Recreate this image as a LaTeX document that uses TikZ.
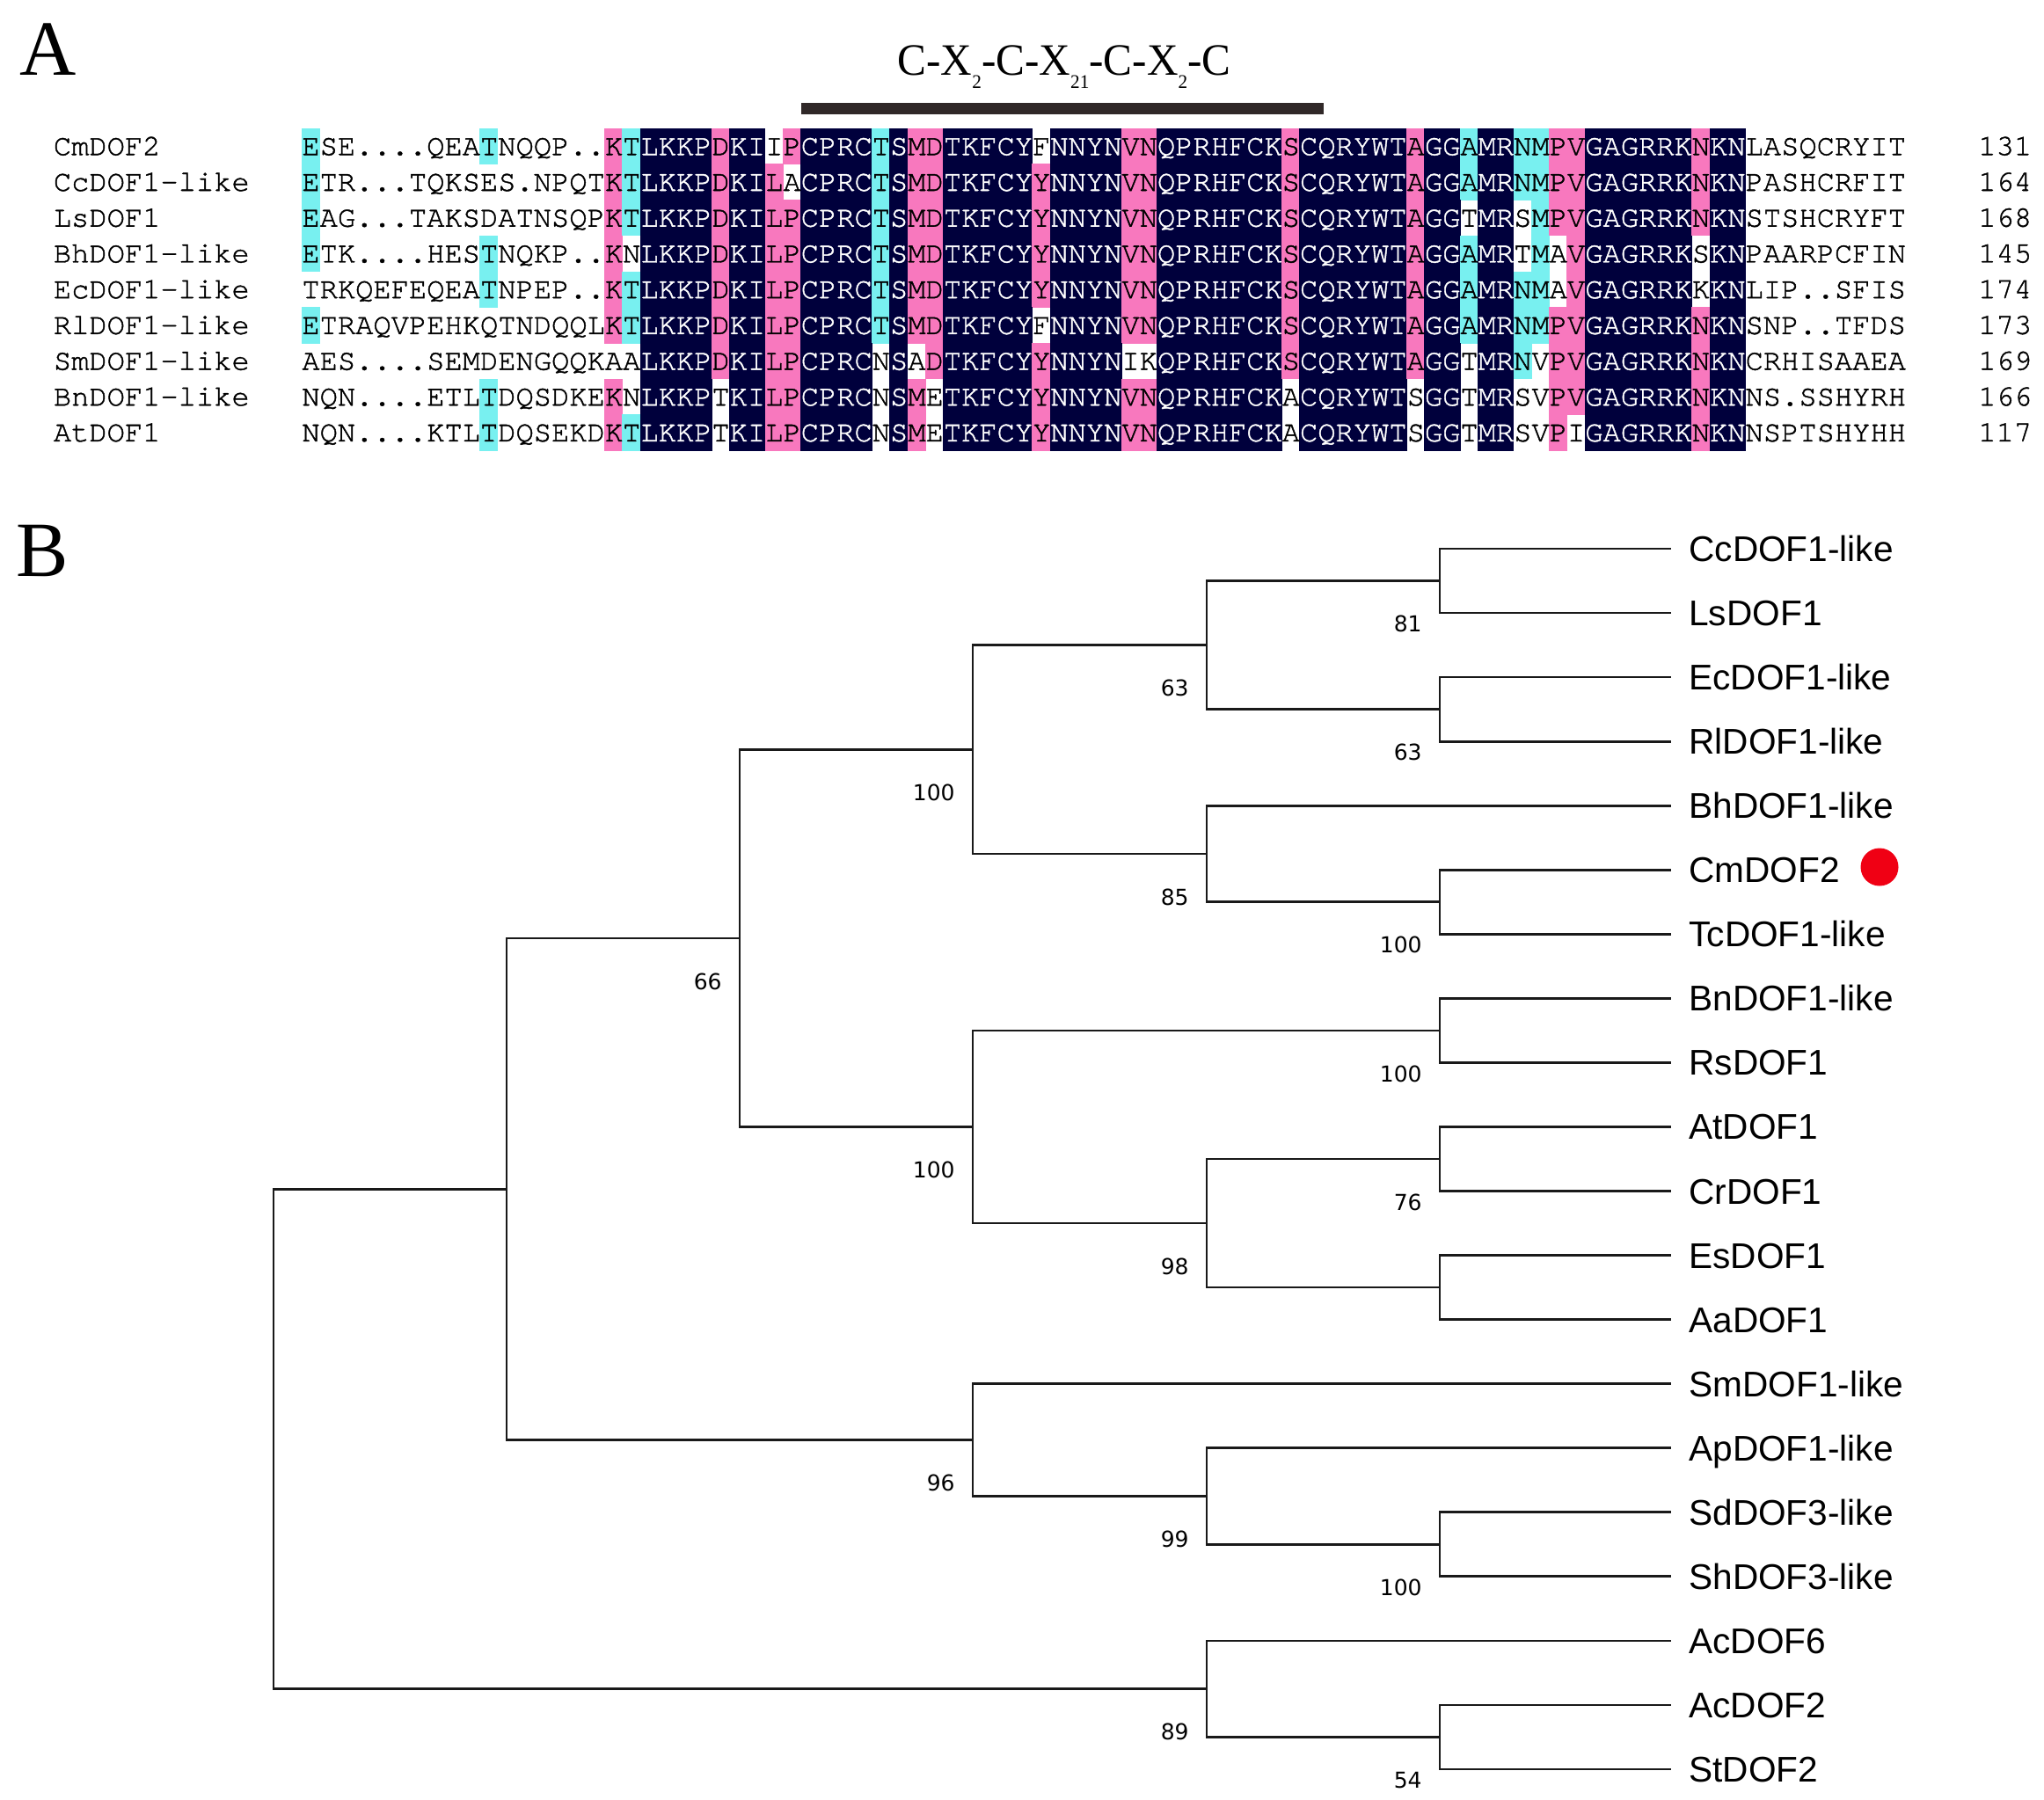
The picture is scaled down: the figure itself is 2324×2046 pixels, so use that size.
\documentclass[tikz,border=0pt]{standalone}
\usepackage{fontspec}
\usepackage{graphicx}
\newfontfamily\monofont[FakeBold=1.2]{TeX Gyre Cursor}
\newfontfamily\labelfont{Liberation Sans}
\newfontfamily\bootfont{DejaVu Sans}
\newfontfamily\serifont{Liberation Serif}
\definecolor{navyc}{RGB}{0,0,60}
\definecolor{pinkc}{RGB}{248,120,190}
\definecolor{cyanc}{RGB}{120,240,240}
\definecolor{barc}{RGB}{48,40,40}
\definecolor{treec}{RGB}{25,25,25}
\definecolor{dotred}{RGB}{240,0,20}

\ExplSyntaxOn
\str_const:cn { c_al_row_1_str } {ESE....QEATNQQP..KTLKKPDKIIPCPRCTSMDTKFCYFNNYNVNQPRHFCKSCQRYWTAGGAMRNMPVGAGRRKNKNLASQCRYIT}
\str_const:cn { c_al_row_2_str } {ETR...TQKSES.NPQTKTLKKPDKILACPRCTSMDTKFCYYNNYNVNQPRHFCKSCQRYWTAGGAMRNMPVGAGRRKNKNPASHCRFIT}
\str_const:cn { c_al_row_3_str } {EAG...TAKSDATNSQPKTLKKPDKILPCPRCTSMDTKFCYYNNYNVNQPRHFCKSCQRYWTAGGTMRSMPVGAGRRKNKNSTSHCRYFT}
\str_const:cn { c_al_row_4_str } {ETK....HESTNQKP..KNLKKPDKILPCPRCTSMDTKFCYYNNYNVNQPRHFCKSCQRYWTAGGAMRTMAVGAGRRKSKNPAARPCFIN}
\str_const:cn { c_al_row_5_str } {TRKQEFEQEATNPEP..KTLKKPDKILPCPRCTSMDTKFCYYNNYNVNQPRHFCKSCQRYWTAGGAMRNMAVGAGRRKKKNLIP..SFIS}
\str_const:cn { c_al_row_6_str } {ETRAQVPEHKQTNDQQLKTLKKPDKILPCPRCTSMDTKFCYFNNYNVNQPRHFCKSCQRYWTAGGAMRNMPVGAGRRKNKNSNP..TFDS}
\str_const:cn { c_al_row_7_str } {AES....SEMDENGQQKAALKKPDKILPCPRCNSADTKFCYYNNYNIKQPRHFCKSCQRYWTAGGTMRNVPVGAGRRKNKNCRHISAAEA}
\str_const:cn { c_al_row_8_str } {NQN....ETLTDQSDKEKNLKKPTKILPCPRCNSMETKFCYYNNYNVNQPRHFCKACQRYWTSGGTMRSVPVGAGRRKNKNNS.SSHYRH}
\str_const:cn { c_al_row_9_str } {NQN....KTLTDQSEKDKTLKKPTKILPCPRCNSMETKFCYYNNYNVNQPRHFCKACQRYWTSGGTMRSVPIGAGRRKNKNNSPTSHYHH}
\int_new:N \l_al_cnt_int
\tl_new:N \l_al_ch_tl
\tl_new:N \l_al_fill_tl
\tl_new:N \l_al_col_tl
\tl_new:N \g_al_text_tl
\tl_new:N \g_al_draw_tl
\fp_new:N \l_al_x_fp
\fp_new:N \l_al_y_fp
\cs_new_protected:Npn \al_compute:n #1
  {
    \tl_gclear:N \g_al_text_tl
    \tl_gclear:N \g_al_draw_tl
    \fp_set:Nn \l_al_y_fp { 146 + 40.7 * ( #1 - 1 ) - 0.3 }
    \int_step_inline:nn { 90 }
      {
        \tl_set:Nx \l_al_ch_tl { \str_item:cn { c_al_row_#1_str } { ##1 } }
        \int_zero:N \l_al_cnt_int
        \int_step_inline:nn { 9 }
          {
            \str_if_eq:eeT { \str_item:cn { c_al_row_####1_str } { ##1 } } { \l_al_ch_tl }
              { \int_incr:N \l_al_cnt_int }
          }
        \str_if_eq:eeT { \l_al_ch_tl } { . } { \int_zero:N \l_al_cnt_int }
        \tl_clear:N \l_al_fill_tl
        \tl_set:Nn \l_al_col_tl { black }
        \int_compare:nNnTF { \l_al_cnt_int } = { 9 }
          { \tl_set:Nn \l_al_fill_tl { navyc } \tl_set:Nn \l_al_col_tl { white } }
          {
            \int_compare:nNnTF { \l_al_cnt_int } > { 6 }
              { \tl_set:Nn \l_al_fill_tl { pinkc } }
              {
                \int_compare:nNnT { \l_al_cnt_int } > { 4 }
                  { \tl_set:Nn \l_al_fill_tl { cyanc } }
              }
          }
        \tl_if_empty:NF \l_al_fill_tl
          {
            \fp_set:Nn \l_al_x_fp { 343 + 20.265 * ( ##1 - 1 ) - 0.4 }
            \tl_gput_right:Nx \g_al_draw_tl
              {
                \exp_not:N \fill [ \l_al_fill_tl ]
                ( \fp_use:N \l_al_x_fp , \fp_use:N \l_al_y_fp )
                rectangle ~ ++ ( 21.065 , 41.3 ) ;
              }
          }
        \tl_gput_right:Nx \g_al_text_tl
          { \exp_not:N \textcolor { \l_al_col_tl } { \l_al_ch_tl } }
      }
  }
\NewDocumentCommand \AlCompute { m } { \al_compute:n {#1} }
\NewDocumentCommand \AlDraw { } { \g_al_draw_tl }
\NewDocumentCommand \AlText { } { \g_al_text_tl }
\ExplSyntaxOff

\newcommand\tsub[1]{\raisebox{-7.5pt}{\fontsize{11}{11}\selectfont #1}}

\tikzset{
  seqtxt/.style={anchor=base west, inner sep=0pt, font=\monofont\fontsize{16.885}{20}\selectfont},
  leaflab/.style={anchor=base west, inner sep=0pt, font=\labelfont\fontsize{20.3}{24}\selectfont},
  boot/.style={anchor=east, inner sep=0pt, font=\bootfont\fontsize{12.5}{15}\selectfont},
  br/.style={line width=1.35pt, draw=treec},
  panel/.style={anchor=base west, inner sep=0pt, font=\serifont\fontsize{44.5}{50}\selectfont}
}

\begin{document}
\begin{tikzpicture}[x=0.5pt,y=-0.5pt]
\useasboundingbox (0,0) rectangle (2324,2046);
\fill[white] (0,0) rectangle (2324,2046);

% panel letters
\node[panel] (pA) at (22,85) {A};
\node[panel] (pB) at (18,655) {B};

% motif title and bar
\node[anchor=base, inner sep=0pt, font=\serifont\fontsize{25.5}{30}\selectfont] (motif) at (1210,85)
  {\scalebox{0.965}[1]{C-X\tsub{2}-C-X\tsub{21}-C-X\tsub{2}-C}};
\fill[barc] (911,117) rectangle (1505,130);

% alignment
\foreach \r/\nm/\num in {1/CmDOF2/131, 2/CcDOF1-like/164, 3/LsDOF1/168, 4/BhDOF1-like/145,
  5/EcDOF1-like/174, 6/RlDOF1-like/173, 7/SmDOF1-like/169, 8/BnDOF1-like/166, 9/AtDOF1/117}{
  \AlCompute{\r}
  \AlDraw
  \node[seqtxt] (s\r) at (343, {176.35+40.7*(\r-1)}) {\AlText};
  \node[seqtxt] (nm\r) at (60.5, {176.35+40.7*(\r-1)}) {\nm};
  \node[seqtxt] (nb\r) at (2249, {176.35+40.7*(\r-1)}) {\num};
}

% tree leaves
\foreach \nm [count=\i from 0] in {CcDOF1-like, LsDOF1, EcDOF1-like, RlDOF1-like, BhDOF1-like,
  CmDOF2, TcDOF1-like, BnDOF1-like, RsDOF1, AtDOF1, CrDOF1, EsDOF1, AaDOF1, SmDOF1-like,
  ApDOF1-like, SdDOF3-like, ShDOF3-like, AcDOF6, AcDOF2, StDOF2}{
  \coordinate (L\i) at (1900, {624+73.05*\i});
  \node[leaflab] (T\i) at (1920, {624+73.05*\i+14.5}) {\nm};
}
\node[circle, fill=dotred, inner sep=0pt, minimum size=21.5pt] (dot) at (2137,986) {};

% internal nodes
\coordinate (n81)   at (1637, 660.5);
\coordinate (n63b)  at (1637, 806.6);
\coordinate (n63a)  at (1372, 733.6);
\coordinate (n100c) at (1637, 1025.8);
\coordinate (n85)   at (1372, 971);
\coordinate (n100a) at (1106, 852.3);
\coordinate (n100d) at (1637, 1171.9);
\coordinate (n76)   at (1637, 1318);
\coordinate (nEA)   at (1637, 1464.1);
\coordinate (n98)   at (1372, 1391);
\coordinate (n100b) at (1106, 1281.5);
\coordinate (n66)   at (841, 1066.9);
\coordinate (n100e) at (1637, 1756.3);
\coordinate (n99)   at (1372, 1701.5);
\coordinate (n96)   at (1106, 1637.6);
\coordinate (nX5)   at (576, 1352.2);
\coordinate (n54)   at (1637, 1975.5);
\coordinate (n89)   at (1372, 1920.7);
\coordinate (root)  at (311, 1636.5);

% branches
\foreach \p/\c in {n81/L0, n81/L1, n63b/L2, n63b/L3, n63a/n81, n63a/n63b,
  n100c/L5, n100c/L6, n85/L4, n85/n100c, n100a/n63a, n100a/n85,
  n100d/L7, n100d/L8, n76/L9, n76/L10, nEA/L11, nEA/L12, n98/n76, n98/nEA,
  n100b/n100d, n100b/n98, n66/n100a, n66/n100b,
  n100e/L15, n100e/L16, n99/L14, n99/n100e, n96/L13, n96/n99,
  nX5/n66, nX5/n96, n54/L18, n54/L19, n89/L17, n89/n54, root/nX5, root/n89}{
  \draw[br] (\p) |- (\c);
}

% bootstrap values
\foreach \n/\v in {n81/81, n63b/63, n63a/63, n100c/100, n85/85, n100a/100, n100d/100,
  n76/76, n98/98, n100b/100, n66/66, n100e/100, n99/99, n96/96, n54/54, n89/89}{
  \node[boot] (b\n) at ([xshift=-10pt,yshift=-24.5pt]\n) {\v};
}
\end{tikzpicture}
\end{document}
